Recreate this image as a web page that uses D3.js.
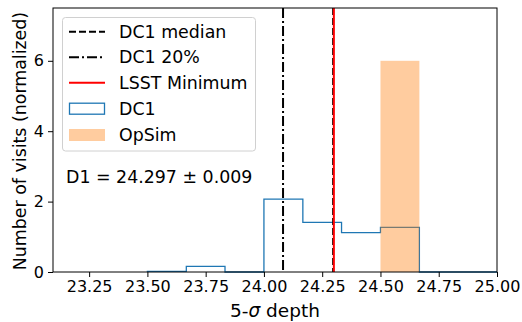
<!DOCTYPE html>
<html>
<head>
<meta charset="utf-8">
<script src="https://cdn.jsdelivr.net/npm/d3@7"></script>
<style>
  body { margin: 0; background: #fff; }
  svg, svg text { font-family: "DejaVu Sans", sans-serif; }
</style>
</head>
<body>
<div id="chart"></div>
<script>
"use strict"

// histogram bins and heights
var binEdges = [23.5, 23.667, 23.833, 24.0, 24.167, 24.333, 24.5, 24.667, 24.833, 25.0];
var dc1Counts = [0.02, 0.16, 0, 2.07, 1.41, 1.12, 1.27, 0, 0];
var opsimCounts = [0, 0, 0, 0, 0, 0, 6, 0, 0];

// reference lines
var dc1Median = 24.297;
var dc1Pct20 = 24.082;
var lsstMinimum = 24.3;

var xTicks = [23.25, 23.5, 23.75, 24.0, 24.25, 24.5, 24.75, 25.0];
var yTicks = [0, 2, 4, 6];
var legendLabels = ["DC1 median", "DC1 20%", "LSST Minimum", "DC1", "OpSim"];
var annotation = "D1 = 24.297 \u00b1 0.009";

var W = 522, H = 322;
var margin = {top: 8, right: 25, bottom: 50, left: 53};
var width = W - margin.left - margin.right;
var height = H - margin.top - margin.bottom;

var svg = d3.select("#chart")
    .append("svg")
    .attr("width", W)
    .attr("height", H)
    .append("g")
    .attr("transform", "translate(" + margin.left + "," + margin.top + ")");

var x = d3.scaleLinear().domain([23.095, 25.0]).range([0, width]);
var y = d3.scaleLinear().domain([0, 7.5]).range([height, 0]);

// DC1 step histogram (drawn first, the OpSim bars sit over it)
var stepPts = [[binEdges[0], 0]];
for (var i = 0; i < dc1Counts.length; i++) {
    stepPts.push([binEdges[i], dc1Counts[i]]);
    stepPts.push([binEdges[i + 1], dc1Counts[i]]);
}
stepPts.push([binEdges[binEdges.length - 1], 0]);
svg.append("path")
    .datum(stepPts)
    .attr("fill", "none")
    .attr("stroke", "#1f77b4")
    .attr("stroke-width", 1.3)
    .attr("d", d3.line().x(function(d) { return x(d[0]); }).y(function(d) { return y(d[1]); }));

// OpSim filled bars
svg.append("g")
    .selectAll("rect")
    .data(opsimCounts.map(function(c, i) { return {x0: binEdges[i], x1: binEdges[i + 1], v: c}; })
        .filter(function(d) { return d.v > 0; }))
    .enter()
    .append("rect")
    .attr("x", function(d) { return x(d.x0); })
    .attr("y", function(d) { return y(d.v); })
    .attr("width", function(d) { return x(d.x1) - x(d.x0); })
    .attr("height", function(d) { return y(0) - y(d.v); })
    .attr("fill", "#ff7f0e")
    .attr("fill-opacity", 0.4);

// vertical reference lines
function vline(v, color, dash) {
    svg.append("line")
        .attr("x1", x(v)).attr("x2", x(v))
        .attr("y1", 0).attr("y2", height)
        .attr("stroke", color)
        .attr("stroke-width", 2)
        .attr("stroke-dasharray", dash);
}
vline(dc1Median, "#000", "7,3");
vline(dc1Pct20, "#000", "10,3,2,3");
vline(lsstMinimum, "#ff0000", null);

// axes
var xAxis = svg.append("g")
    .attr("transform", "translate(0," + height + ")")
    .call(d3.axisBottom(x).tickValues(xTicks).tickFormat(d3.format(".2f")).tickSizeOuter(0).tickSize(5).tickPadding(4));
var yAxis = svg.append("g")
    .call(d3.axisLeft(y).tickValues(yTicks).tickFormat(d3.format("d")).tickSizeOuter(0).tickSize(5).tickPadding(4));
[xAxis, yAxis].forEach(function(a) {
    a.attr("font-family", "DejaVu Sans").attr("font-size", 16);
    a.selectAll("text").attr("fill", "#000");
    a.select(".domain").remove();
    a.selectAll("line").attr("stroke", "#000").attr("stroke-width", 1);
});

// frame
svg.append("rect")
    .attr("x", 0).attr("y", 0)
    .attr("width", width).attr("height", height)
    .attr("fill", "none")
    .attr("stroke", "#000")
    .attr("stroke-width", 1);

// axis labels
var xl = svg.append("text")
    .attr("x", width / 2)
    .attr("y", height + 45)
    .attr("text-anchor", "middle")
    .style("font-size", "18.5px");
xl.append("tspan").text("5-");
xl.append("tspan").style("font-style", "italic").text("\u03c3");
xl.append("tspan").text(" depth");
svg.append("text")
    .attr("transform", "translate(" + (-27) + "," + (height / 2 + 1) + ") rotate(-90)")
    .attr("text-anchor", "middle")
    .style("font-size", "17.4px")
    .text("Number of visits (normalized)");

// annotation
svg.append("text")
    .attr("x", 66 - margin.left)
    .attr("y", 176.7 - margin.top)
    .attr("dy", "0.35em")
    .style("font-size", "17.4px")
    .text(annotation);

// legend
var lg = svg.append("g").attr("transform", "translate(" + (62.5 - margin.left) + "," + (17.5 - margin.top) + ")");
lg.append("rect")
    .attr("width", 193).attr("height", 133.5)
    .attr("rx", 3)
    .attr("fill", "#fff").attr("fill-opacity", 0.8)
    .attr("stroke", "#d0d0d0");
var rowY = [14.2, 39.8, 65.2, 91.2, 117.5];
legendLabels.forEach(function(lab, i) {
    var yy = rowY[i];
    if (i === 0) {
        lg.append("line").attr("x1", 6.5).attr("x2", 42.5).attr("y1", yy).attr("y2", yy)
            .attr("stroke", "#000").attr("stroke-width", 2).attr("stroke-dasharray", "7,3");
    } else if (i === 1) {
        lg.append("line").attr("x1", 6.5).attr("x2", 42.5).attr("y1", yy).attr("y2", yy)
            .attr("stroke", "#000").attr("stroke-width", 2).attr("stroke-dasharray", "10,3,2,3");
    } else if (i === 2) {
        lg.append("line").attr("x1", 6.5).attr("x2", 42.5).attr("y1", yy).attr("y2", yy)
            .attr("stroke", "#ff0000").attr("stroke-width", 2);
    } else if (i === 3) {
        lg.append("rect").attr("x", 7).attr("y", yy - 5.5).attr("width", 35).attr("height", 11)
            .attr("fill", "none").attr("stroke", "#1f77b4").attr("stroke-width", 1.3);
    } else {
        lg.append("rect").attr("x", 6.5).attr("y", yy - 6).attr("width", 36).attr("height", 12)
            .attr("fill", "#ff7f0e").attr("fill-opacity", 0.4);
    }
    lg.append("text")
        .attr("x", 56.5)
        .attr("y", yy)
        .attr("dy", "0.35em")
        .style("font-size", "17.4px")
        .text(lab);
});
</script>
</body>
</html>
